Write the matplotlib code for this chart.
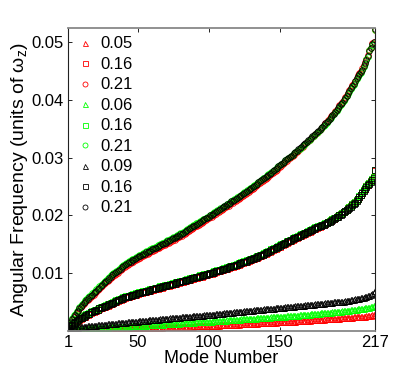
import numpy as np
import matplotlib
matplotlib.use("Agg")
import matplotlib.pyplot as plt

plt.rcParams['font.family'] = ['Liberation Sans', 'DejaVu Sans']
plt.rcParams['mathtext.fontset'] = 'custom'
plt.rcParams['mathtext.rm'] = 'Liberation Sans'
plt.rcParams['mathtext.it'] = 'Liberation Sans'

# legend labels and styles per series (red, green, black groups)
labels = ['0.05', '0.16', '0.21', '0.06', '0.16', '0.21', '0.09', '0.16', '0.21']

# circles (top curves), units of 1e-4
top_red = [4, 9, 14, 19, 24, 27, 31, 34, 38, 41, 44, 47,
           50, 52, 54, 56, 58, 61, 63, 66, 68, 71, 73, 76, 78, 81,
           83, 85, 87, 89, 91, 93, 95, 97, 99, 101, 103, 105, 108, 110,
           111, 113, 114, 116, 117, 119, 120, 122, 123, 125,
           126, 127, 129, 130, 131, 133, 134, 135, 136, 138, 139, 140, 141, 143, 144,
           145, 147, 148, 149, 150, 152, 153, 154, 156, 157, 158, 160, 161, 162, 164,
           165, 167, 168, 170, 171, 173, 175, 176, 178, 179, 181, 182, 184, 185, 187, 189, 190, 192, 193, 195,
           197, 198, 200, 201, 203, 205, 206, 208, 209, 211, 213, 214, 216, 217, 219, 221, 222, 224, 225, 227,
           229, 230, 232, 234, 236, 237, 239, 241, 243, 244, 246, 248, 250, 252, 254, 256, 258, 260, 261, 263, 265, 267, 269,
           271, 273, 275, 277, 279, 282, 284, 286, 288, 290, 292, 294, 297, 299, 301, 303, 305,
           307, 309, 312, 314, 316, 319, 321, 323, 326, 328, 331, 333, 336, 338, 340, 343, 345, 348, 350, 353,
           356, 359, 362, 365, 368, 371, 374, 377, 380, 383, 386, 390, 393, 396, 400,
           404, 408, 412, 416, 421, 425, 429, 433, 438, 442, 446, 450, 454, 460, 465, 470, 478, 486, 490, 498, 500, 521]
top_green = [5, 11, 17, 22, 27, 30, 34, 37, 41, 44, 47, 50,
             53, 55, 58, 60, 62, 65, 67, 70, 72, 75, 77, 80, 82, 85,
             87, 89, 91, 93, 96, 98, 100, 102, 104, 106, 108, 110, 113, 115,
             116, 118, 119, 121, 122, 124, 125, 127, 128, 130,
             131, 132, 134, 135, 136, 138, 139, 140, 141, 143, 144, 145, 146, 148, 149,
             150, 152, 153, 154, 155, 157, 158, 159, 161, 162, 163, 165, 166, 167, 169,
             170, 172, 173, 175, 176, 178, 180, 181, 183, 184, 186, 187, 189, 190, 192, 193, 194, 196, 197, 199,
             201, 202, 204, 205, 207, 209, 210, 212, 213, 215, 217, 218, 220, 221, 223, 225, 226, 228, 229, 231,
             233, 234, 236, 238, 240, 241, 243, 245, 247, 248, 250, 252, 254, 256, 258, 260, 262, 264, 265, 267, 269, 271, 273,
             275, 277, 279, 281, 283, 285, 287, 289, 291, 293, 295, 297, 299, 301, 303, 305, 307,
             309, 311, 313, 315, 317, 320, 322, 324, 326, 329, 331, 333, 336, 338, 340, 343, 345, 347, 350, 352,
             355, 357, 360, 363, 366, 369, 372, 375, 378, 381, 384, 388, 391, 394, 398,
             402, 406, 410, 414, 418, 422, 426, 431, 435, 440, 443, 447, 451, 456, 462, 470, 474, 486, 490, 495, 498, 520]
top_black = [4, 10, 15, 20, 25, 28, 32, 35, 39, 42, 45, 48,
             51, 53, 56, 58, 60, 63, 65, 68, 70, 73, 75, 78, 80, 83,
             85, 87, 89, 91, 94, 96, 98, 100, 102, 104, 106, 108, 111, 113,
             114, 116, 117, 119, 120, 122, 123, 125, 126, 128,
             129, 130, 132, 133, 134, 136, 137, 138, 139, 141, 142, 143, 144, 146, 147,
             148, 150, 151, 152, 153, 155, 156, 157, 159, 160, 161, 163, 164, 165, 167,
             168, 170, 171, 173, 174, 176, 178, 179, 181, 182, 184, 185, 187, 188, 190, 192, 193, 195, 196, 198,
             200, 201, 203, 204, 206, 208, 209, 211, 212, 214, 216, 217, 219, 220, 222, 224, 225, 227, 228, 230,
             232, 233, 235, 237, 239, 240, 242, 244, 246, 247, 249, 251, 253, 255, 257, 259, 261, 263, 264, 266, 268, 270, 272,
             274, 276, 278, 280, 282, 285, 287, 289, 291, 293, 295, 297, 299, 301, 303, 305, 307,
             309, 311, 314, 316, 318, 321, 323, 325, 327, 330, 332, 334, 337, 339, 341, 344, 346, 348, 351, 353,
             356, 359, 361, 364, 367, 370, 373, 376, 379, 382, 385, 389, 392, 395, 399,
             403, 407, 411, 415, 420, 424, 428, 432, 437, 441, 444, 448, 452, 458, 463, 468, 476, 485, 489, 497, 500, 522]

# squares (middle curves), units of 1e-4
mid_red = [3, 6, 8, 10, 12, 14, 16, 18, 19, 21, 22, 24,
           25, 27, 28, 29, 31, 32, 33, 34, 35, 36, 38, 39, 40, 41,
           42, 43, 44, 45, 46, 47, 48, 50, 51, 52, 53, 54, 55, 56,
           57, 58, 58, 59, 60, 61, 62, 62, 63, 64,
           65, 65, 66, 67, 67, 68, 69, 69, 70, 71, 71, 72, 73, 73, 74, 75, 75, 76, 77, 77, 78, 78, 79,
           80, 81, 81, 82, 83, 83, 84, 85, 85, 86, 87, 88, 88, 89, 90, 90, 91, 92, 92, 93, 94, 94, 95, 96, 96, 97, 98,
           99, 99, 100, 101, 102, 103, 103, 104, 105, 106, 107, 107, 108, 109, 110, 111, 111, 112, 113, 114,
           115, 116, 117, 118, 119, 119, 120, 121, 122, 123, 124, 125, 126, 127, 128, 129,
           130, 131, 133, 134, 135, 136, 137, 139, 140, 141, 142, 144, 145, 146, 148, 149, 150, 151, 153, 154, 155, 156, 158, 159,
           160, 161, 162, 164, 165, 166, 167, 168, 170, 171, 172, 173, 174, 176, 177, 178, 179, 180, 181, 183, 184, 185, 186,
           188, 190, 191, 193, 194, 196, 197, 199, 200, 202, 204, 206,
           208, 210, 212, 214, 216, 219, 221, 223, 226, 229, 232,
           236, 239, 243, 246, 250, 253, 256, 259, 262, 266, 277]
mid_green = [4, 7, 9, 12, 14, 16, 18, 20, 21, 23, 24, 26,
             27, 29, 30, 31, 33, 34, 35, 36, 37, 38, 40, 41, 42, 43,
             44, 45, 46, 47, 48, 49, 50, 52, 53, 54, 55, 56, 57, 58,
             59, 60, 60, 61, 62, 63, 64, 64, 65, 66,
             67, 67, 68, 69, 69, 70, 71, 71, 72, 73, 73, 74, 75, 75, 76, 77, 77, 78, 79, 79, 80, 80, 81,
             82, 83, 83, 84, 85, 85, 86, 87, 87, 88, 89, 90, 90, 91, 92, 92, 93, 94, 94, 95, 96, 96, 97, 98, 98, 99, 100,
             101, 101, 102, 103, 104, 105, 105, 106, 107, 108, 109, 109, 110, 111, 112, 113, 113, 114, 115, 116,
             117, 118, 119, 120, 121, 121, 122, 123, 124, 125, 126, 127, 128, 129, 130, 131,
             132, 133, 135, 136, 137, 138, 139, 141, 142, 143, 144, 146, 147, 148, 150, 151, 152, 153, 155, 156, 157, 158, 160, 161,
             162, 163, 164, 166, 167, 168, 169, 170, 172, 173, 174, 175, 176, 178, 179, 180, 181, 182, 183, 184, 185, 186, 187,
             189, 190, 192, 193, 195, 196, 198, 199, 201, 202, 204, 206,
             208, 210, 212, 214, 216, 219, 221, 223, 226, 229, 233,
             236, 240, 243, 247, 250, 254, 256, 259, 263, 266, 279]
mid_black = [3, 6, 8, 11, 13, 15, 17, 19, 20, 22, 23, 25,
             26, 28, 29, 30, 32, 33, 34, 35, 36, 37, 39, 40, 41, 42,
             43, 44, 45, 46, 47, 48, 49, 51, 52, 53, 54, 55, 56, 57,
             58, 59, 59, 60, 61, 62, 63, 63, 64, 65,
             66, 66, 67, 68, 68, 69, 70, 70, 71, 72, 72, 73, 74, 74, 75, 76, 76, 77, 78, 78, 79, 79, 80,
             81, 82, 82, 83, 84, 84, 85, 86, 86, 87, 88, 89, 89, 90, 91, 91, 92, 93, 93, 94, 95, 95, 96, 97, 97, 98, 99,
             100, 100, 101, 102, 103, 104, 104, 105, 106, 107, 108, 108, 109, 110, 111, 112, 112, 113, 114, 115,
             116, 117, 118, 119, 120, 120, 121, 122, 123, 124, 125, 126, 127, 128, 129, 130,
             131, 132, 134, 135, 136, 137, 138, 140, 141, 142, 143, 145, 146, 147, 149, 150, 151, 152, 154, 155, 156, 157, 159, 160,
             161, 162, 163, 165, 166, 167, 168, 169, 171, 172, 173, 174, 175, 177, 178, 179, 180, 181, 182, 183, 184, 185, 186,
             188, 189, 191, 192, 194, 195, 197, 198, 200, 201, 203, 205,
             207, 209, 211, 213, 215, 218, 220, 222, 225, 228, 232,
             235, 239, 242, 246, 249, 253, 255, 258, 262, 265, 278]

# triangles (bottom curves), units of 1e-5
low_red = [8, 11, 13, 15, 16, 18, 19, 20, 21, 22, 23, 24, 25, 26, 26, 27, 28, 29, 29, 30,
           31, 31, 32, 32, 33, 34, 34, 35, 35, 36, 36, 37, 37, 38, 38, 38, 39, 39, 40, 40,
           41, 42, 42, 43, 44, 45, 45, 46, 47, 48, 48, 49, 50, 51, 51, 52, 53, 54, 54, 55, 56, 57, 57, 58, 59, 60,
           60, 61, 62, 63, 63, 64, 65, 66, 66, 67, 68, 69, 69, 70, 71, 72, 72, 73, 74, 75, 75, 76, 77, 78, 79, 79,
           80, 81, 82, 82, 83, 84, 85, 86, 87,
           88, 89, 91, 92, 93, 94, 96, 97, 98, 100, 101, 102, 103, 105, 106, 107, 108, 110, 111, 112, 114, 115,
           116, 117, 119, 120, 121, 122, 124, 125, 126, 128, 129, 130, 131, 133, 134, 135, 136, 138, 139, 140,
           142, 143, 144, 145, 147, 148, 149, 150, 152, 153, 154, 156, 157, 158, 159, 161, 162,
           164, 165, 167, 169, 170, 172, 174, 175, 177, 179, 180, 182, 184, 185, 187, 189, 190, 192, 194, 195,
           197, 199, 200, 202, 204, 205, 207, 209, 210, 212, 214, 215, 217, 219, 220,
           222, 224, 226, 228, 230, 232, 234, 236, 238, 240, 242, 244, 246, 248, 250,
           254, 258, 262, 266, 270, 275, 280]
low_green = [10, 15, 19, 22, 25, 27, 29, 31, 33, 35, 36, 38, 39, 41, 42, 44, 45, 46, 48, 49,
             50, 52, 53, 54, 55, 57, 58, 59, 60, 61, 62, 63, 64, 65, 66, 67, 68, 68, 69, 70,
             72, 73, 75, 76, 78, 79, 81, 82, 84, 85, 87, 88, 90, 91, 93, 94, 96, 97, 99, 100,
             102, 103, 105, 106, 108, 109, 111, 112, 114, 115, 117, 118, 120, 121, 123, 124, 126, 127, 129, 130,
             132, 133, 135, 136, 138, 139, 141, 142, 144, 145, 147, 148, 150, 151, 153, 154, 156, 157, 159, 160, 162,
             164, 165, 167, 169, 170, 172, 174, 175, 177, 179, 180, 182, 184, 185, 187, 189, 190, 192, 194, 195,
             197, 199, 200, 202, 204, 205, 207, 209, 210, 212, 214, 215, 217, 219, 220, 222, 224, 225, 227, 229,
             230, 232, 234, 235, 237, 239, 240, 242, 244, 245, 247, 249, 250, 252, 254, 255, 257, 258, 260,
             262, 265, 267, 269, 271, 274, 276, 278, 281, 283, 285, 287, 290, 292, 294, 297, 299, 301, 303, 306,
             308, 310, 313, 315, 317, 319, 322, 324, 326, 329, 331, 333, 335, 338, 340,
             343, 347, 350, 353, 357, 360, 363, 367, 370, 373, 377, 380, 383, 387, 390,
             395, 400, 405, 411, 418, 426, 435]
low_black = [20, 30, 37, 43, 48, 52, 56, 60, 63, 66, 69, 72, 75, 77, 80, 82, 85, 87, 90,
             92, 95, 97, 100, 102, 104, 107, 109, 111, 114, 116, 118, 121, 123, 126, 128, 130, 133, 135, 138, 140,
             142, 145, 147, 149, 152, 154, 156, 159, 161, 163, 166, 168, 170, 173, 175, 177, 180, 182, 184, 187,
             189, 191, 194, 196, 198, 201, 203, 205, 208, 210,
             212, 214, 217, 219, 221, 223, 225, 228, 230, 232, 234, 236, 238, 241, 243, 245, 247, 249, 252, 254,
             256, 258, 260, 263, 265, 267, 269, 271, 274, 276, 278,
             280, 283, 285, 288, 290, 293, 295, 298, 300, 303, 305, 308, 310, 313, 315, 318, 320, 323, 325, 328,
             330, 333, 335, 338, 340, 343, 345, 348, 350,
             352, 355, 357, 360, 362, 365, 367, 369, 372, 374, 377, 379, 382, 384, 386, 389, 391, 394, 396, 399,
             401, 403, 406, 408, 411, 413, 416, 418, 421, 423,
             425, 428, 430, 433, 435, 438, 440, 443, 445, 448, 450, 453, 455, 458, 460, 463, 465, 468, 470, 473,
             475, 478, 480, 483, 485, 488, 490, 493, 495, 498, 500, 503, 505, 508, 510,
             514, 518, 522, 526, 531, 535, 540, 545, 550, 555, 560, 565, 570, 575, 580,
             590, 600, 612, 625, 640, 660, 684]

series = [(low_red, 1e-5, '^', '#ff0000'), (mid_red, 1e-4, 's', '#ff0000'), (top_red, 1e-4, 'o', '#ff0000'),
          (low_green, 1e-5, '^', '#00ff00'), (mid_green, 1e-4, 's', '#00ff00'), (top_green, 1e-4, 'o', '#00ff00'),
          (low_black, 1e-5, '^', '#000000'), (mid_black, 1e-4, 's', '#000000'), (top_black, 1e-4, 'o', '#000000')]

for vals, _, _, _ in series:
    assert len(vals) == 217, len(vals)

fig = plt.figure(figsize=(4.15, 3.72), dpi=100)
ax = fig.add_axes([68 / 415, 1 - 331 / 372, 307 / 415, 303 / 372])

for (vals, scale, mk, col), lab in zip(series, labels):
    modes = np.arange(1, len(vals) + 1)
    ax.plot(modes, np.array(vals) * scale, linestyle='none', marker=mk, markersize=4.0,
            markerfacecolor='none', markeredgecolor=col, markeredgewidth=0.6, label=lab)

ax.set_xlim(1, 217)
ax.set_ylim(0, 0.0524)
ax.set_xticks([1, 50, 100, 150, 217])
ax.set_yticks([0.01, 0.02, 0.03, 0.04, 0.05])
ax.set_yticklabels(['0.01', '0.02', '0.03', '0.04', '0.05'])
ax.tick_params(direction='in', length=3, width=0.6, labelsize=12, top=True, right=True, pad=3)

ax.set_xlabel('Mode Number', fontsize=13, labelpad=0)
ax.set_ylabel(r'Angular Frequency (units of $\mathregular{\omega_z}$)', fontsize=14, labelpad=1)

for side in ['top', 'bottom']:
    ax.spines[side].set_color('#888888')
    ax.spines[side].set_linewidth(1.3)
for side in ['left', 'right']:
    ax.spines[side].set_color('#222222')
    ax.spines[side].set_linewidth(0.8)

ax.legend(loc='upper left', frameon=False, fontsize=12, handletextpad=0.45,
          handlelength=1.0, labelspacing=0.33, borderaxespad=0.1, markerscale=0.9)

fig.savefig('out.png', dpi=100, facecolor='white')
